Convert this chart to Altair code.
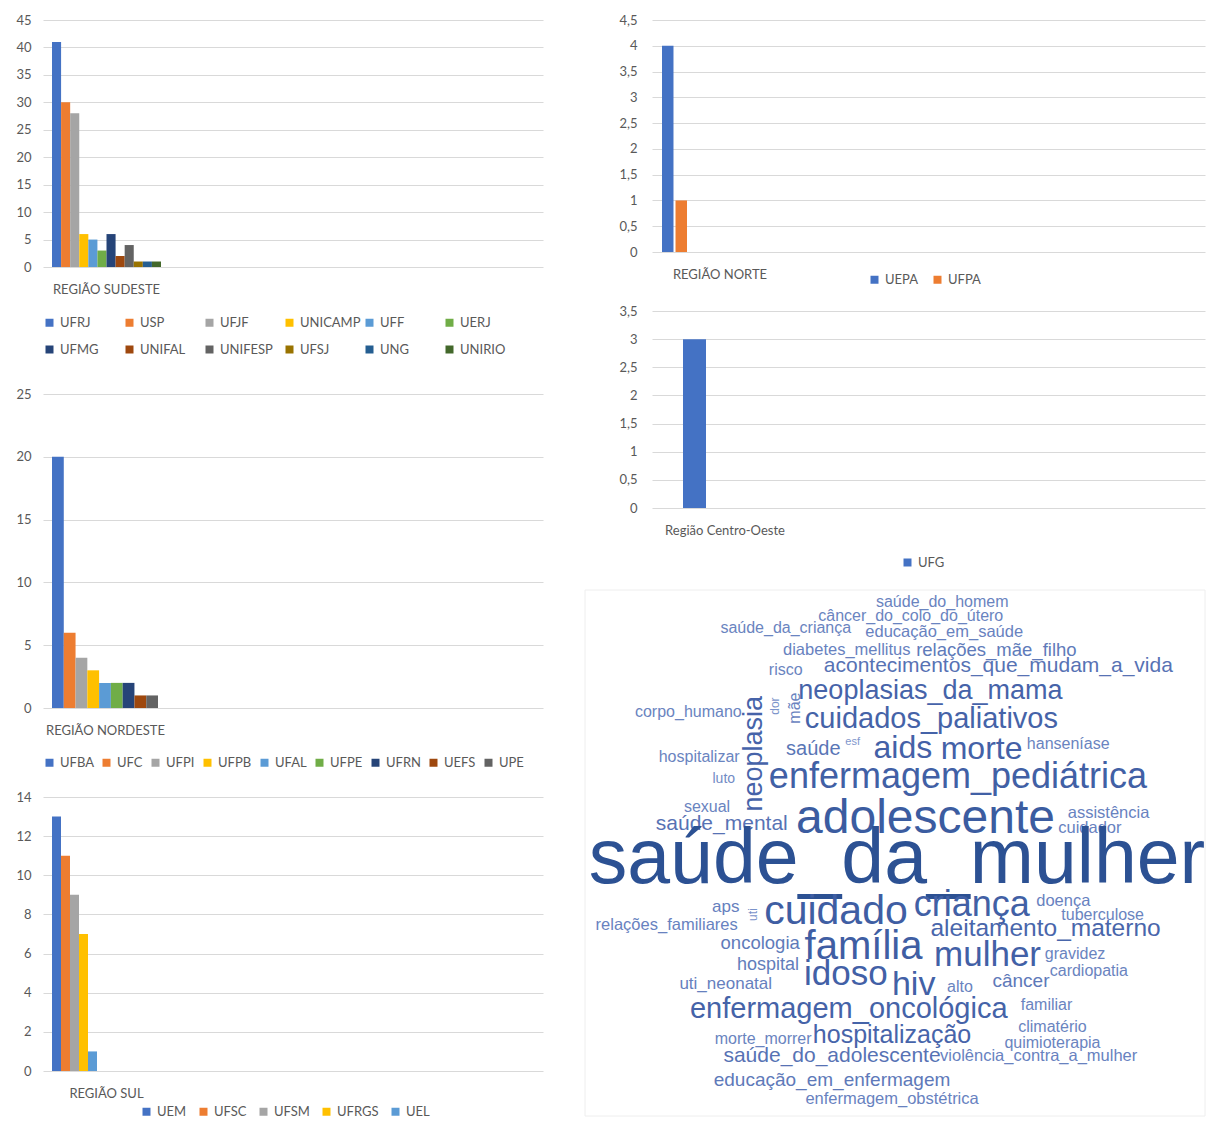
import altair as alt
import pandas as pd

# ---------------- data ----------------
sudeste_unis = ["UFRJ", "USP", "UFJF", "UNICAMP", "UFF", "UERJ",
                "UFMG", "UNIFAL", "UNIFESP", "UFSJ", "UNG", "UNIRIO"]
sudeste_vals = [41, 30, 28, 6, 5, 3, 6, 2, 4, 1, 1, 1]
sudeste_ticks = [0, 5, 10, 15, 20, 25, 30, 35, 40, 45]

nordeste_unis = ["UFBA", "UFC", "UFPI", "UFPB", "UFAL", "UFPE", "UFRN", "UEFS", "UPE"]
nordeste_vals = [20, 6, 4, 3, 2, 2, 2, 1, 1]
nordeste_ticks = [0, 5, 10, 15, 20, 25]

sul_unis = ["UEM", "UFSC", "UFSM", "UFRGS", "UEL"]
sul_vals = [13, 11, 9, 7, 1]
sul_ticks = [0, 2, 4, 6, 8, 10, 12, 14]

norte_unis = ["UEPA", "UFPA"]
norte_vals = [4, 1]
norte_ticks = [0, 0.5, 1, 1.5, 2, 2.5, 3, 3.5, 4, 4.5]

co_unis = ["UFG"]
co_vals = [3]
co_ticks = [0, 0.5, 1, 1.5, 2, 2.5, 3, 3.5]

words = ["saúde_do_homem", "câncer_do_colo_do_útero", "saúde_da_criança", "educação_em_saúde",
         "diabetes_mellitus", "relações_mãe_filho", "risco", "acontecimentos_que_mudam_a_vida",
         "neoplasias_da_mama", "corpo_humano", "neoplasia", "dor", "mãe", "cuidados_paliativos",
         "saúde", "esf", "aids", "morte", "hanseníase", "hospitalizar", "luto",
         "enfermagem_pediátrica", "sexual", "saúde_mental", "adolescente", "assistência",
         "cuidador", "saúde_da_mulher", "aps", "uti", "cuidado", "criança", "doença",
         "tuberculose", "relações_familiares", "aleitamento_materno", "oncologia", "família",
         "mulher", "gravidez", "hospital", "idoso", "cardiopatia", "hiv", "alto", "câncer",
         "uti_neonatal", "enfermagem_oncológica", "familiar", "morte_morrer", "hospitalização",
         "climatério", "quimioterapia", "saúde_do_adolescente", "violência_contra_a_mulher",
         "educação_em_enfermagem", "enfermagem_obstétrica"]
word_x = [363, 331, 204, 365, 266, 418, 204, 420, 351, 105, 172, 193, 213, 352,
          232, 272, 323, 403, 491, 116, 141, 379, 124, 139, 346, 532, 513, 317,
          143, 171, 255, 393, 486, 526, 83, 468, 178, 283, 409, 498, 186, 265,
          512, 334, 381, 443, 143, 268, 469, 181, 312, 475, 475, 251, 461, 251, 312]
word_y = [12, 26, 38, 42, 60, 60, 81, 77, 102, 123, 165, 117, 119, 130,
          160, 153, 159, 160, 155, 168, 190, 188, 219, 236, 231, 225, 240, 272,
          319, 327, 324, 317, 313, 327, 338, 342, 356, 360, 368, 367, 378, 387,
          384, 398, 400, 394, 397, 422, 418, 452, 448, 440, 456, 470, 470, 494, 513]
word_freq = [16, 16, 16, 16.5, 16.5, 18.5, 16, 21, 27, 16, 27, 12, 16, 29,
             20, 11, 32, 32, 16, 16, 14, 36, 16, 21, 48, 16.5, 16.5, 77,
             17, 12, 41, 36, 16.5, 16, 16.5, 24.5, 18.5, 40, 35, 16, 18, 35,
             16, 34, 16, 19, 17, 29, 16, 16, 25, 16, 16, 21, 16.5, 19, 16.5]
word_angle = [0, 0, 0, 0, 0, 0, 0, 0, 0, 0, 270, 270, 270, 0,
              0, 0, 0, 0, 0, 0, 0, 0, 0, 0, 0, 0, 0, 0,
              0, 270, 0, 0, 0, 0, 0, 0, 0, 0, 0, 0, 0, 0,
              0, 0, 0, 0, 0, 0, 0, 0, 0, 0, 0, 0, 0, 0, 0]

# ---------------- style ----------------
OFFICE = ["#4472C4", "#ED7D31", "#A5A5A5", "#FFC000", "#5B9BD5", "#70AD47",
          "#264478", "#9E480E", "#636363", "#997300", "#255E91", "#43682B"]
FONT = "Lato"
TXT = "#595959"
GRID = "#D9D9D9"
RIGHT_W = 553


def bar_panel(region, unis, vals, ticks, width, height, y_range, pad_outer, offset_px,
              inner, y_label_pad, lx, ly, cols, grid_align, col_pad):
    df = pd.DataFrame({"Região": [region] * len(unis), "Universidade": unis, "Total": vals})
    # the region is the first of three category slots (the other two stay empty)
    x_domain = [region, "_vazio1", "_vazio2"]
    legend = alt.Legend(title=None, orient="none", legendX=lx, legendY=ly,
                        direction="horizontal", columns=cols, gridAlign=grid_align,
                        columnPadding=col_pad, rowPadding=13, symbolType="square",
                        symbolSize=64, symbolStrokeWidth=0, labelFontSize=13,
                        labelColor=TXT, labelFont=FONT, labelOffset=4, padding=0)
    return alt.Chart(df).mark_bar().encode(
        x=alt.X("Região:N",
                scale=alt.Scale(domain=x_domain, paddingInner=0,
                                paddingOuter=pad_outer, align=0),
                axis=alt.Axis(title=None, values=[region], labelAngle=0, domain=False,
                              ticks=False, tickSize=0, grid=False, labelPadding=16,
                              labelFontSize=13, labelColor=TXT, labelFont=FONT)),
        xOffset=alt.XOffset("Universidade:N", sort=unis,
                            scale=alt.Scale(domain=unis, range=offset_px,
                                            paddingInner=inner, paddingOuter=0)),
        y=alt.Y("Total:Q",
                scale=alt.Scale(domain=[0, ticks[-1]], range=y_range, nice=False),
                axis=alt.Axis(title=None, values=ticks, domain=False, ticks=False,
                              tickSize=0, grid=True, gridColor=GRID, gridWidth=1,
                              labelPadding=y_label_pad,
                              labelExpr="replace(toString(datum.value), '.', ',')",
                              labelFontSize=13, labelColor=TXT, labelFont=FONT)),
        color=alt.Color("Universidade:N", sort=unis,
                        scale=alt.Scale(domain=unis, range=OFFICE[:len(unis)]),
                        legend=legend),
    ).properties(width=width, height=height)


# band width = width / (3 + 2 * paddingOuter), first slot at the left edge
sudeste = bar_panel("REGIÃO SUDESTE", sudeste_unis, sudeste_vals, sudeste_ticks,
                    500, 247, [247, 0], 0.4685, [9, 118], 0, 12,
                    0, 296, 6, "all", 2)
norte = bar_panel("REGIÃO NORTE", norte_unis, norte_vals, norte_ticks,
                  RIGHT_W, 232, [232, 0], 0.533, [10, 35], 0.15, 15,
                  216, 253, 2, "each", 12)
nordeste = bar_panel("REGIÃO NORDESTE", nordeste_unis, nordeste_vals, nordeste_ticks,
                     500, 441, [441, 127], 0.5, [9, 115], 0, 12,
                     0, 489, 9, "each", 6)
centro = bar_panel("Região Centro-Oeste", co_unis, co_vals, co_ticks,
                   RIGHT_W, 241, [241, 44], 0.394, [31, 54], 0, 15,
                   249, 289, 1, "each", 12)
sul = bar_panel("REGIÃO SUL", sul_unis, sul_vals, sul_ticks,
                500, 363, [363, 89], 0.4685, [9, 54], 0, 12,
                97, 397, 5, "each", 10)

# ---------------- word cloud ----------------
cloud_df = pd.DataFrame({"palavra": words, "cx": word_x, "cy": word_y,
                         "peso": word_freq, "angulo": word_angle})
frame_df = pd.DataFrame({"x0": [0], "x1": [630], "y0": [0], "y1": [530]})
xs = alt.Scale(domain=[0, 630], range=[-67, RIGHT_W])
ys = alt.Scale(domain=[0, 530], range=[-118, 408])

frame = alt.Chart(frame_df).mark_rect(fillOpacity=0, stroke="#eeeeee", strokeWidth=1).encode(
    x=alt.X("x0:Q", scale=xs, axis=None), x2="x1",
    y=alt.Y("y0:Q", scale=ys, axis=None), y2="y1")

cloud_text = alt.Chart(cloud_df).mark_text(font="Liberation Sans", align="center",
                                           baseline="middle").encode(
    x=alt.X("cx:Q", scale=xs, axis=None),
    y=alt.Y("cy:Q", scale=ys, axis=None),
    text="palavra:N",
    size=alt.Size("peso:Q", scale=None, legend=None),
    angle=alt.Angle("angulo:Q", scale=None),
    color=alt.Color("peso:Q", scale=alt.Scale(domain=[16, 25, 77],
                                              range=["#6a84c0", "#4764aa", "#2c5193"]),
                    legend=None),
)
cloud = alt.layer(frame, cloud_text).properties(width=RIGHT_W, height=408)

chart = alt.concat(sudeste, norte, nordeste, centro, sul, cloud, columns=2,
                   spacing={"row": 0, "column": 109}, bounds="flush").resolve_scale(
    x="independent", y="independent", color="independent", xOffset="independent"
).properties(
    padding={"left": 7, "top": 5, "right": 0, "bottom": 0},
    background="white",
).configure_view(stroke="transparent")

chart.save("out.html", embed_options={"renderer": "svg", "actions": False})
